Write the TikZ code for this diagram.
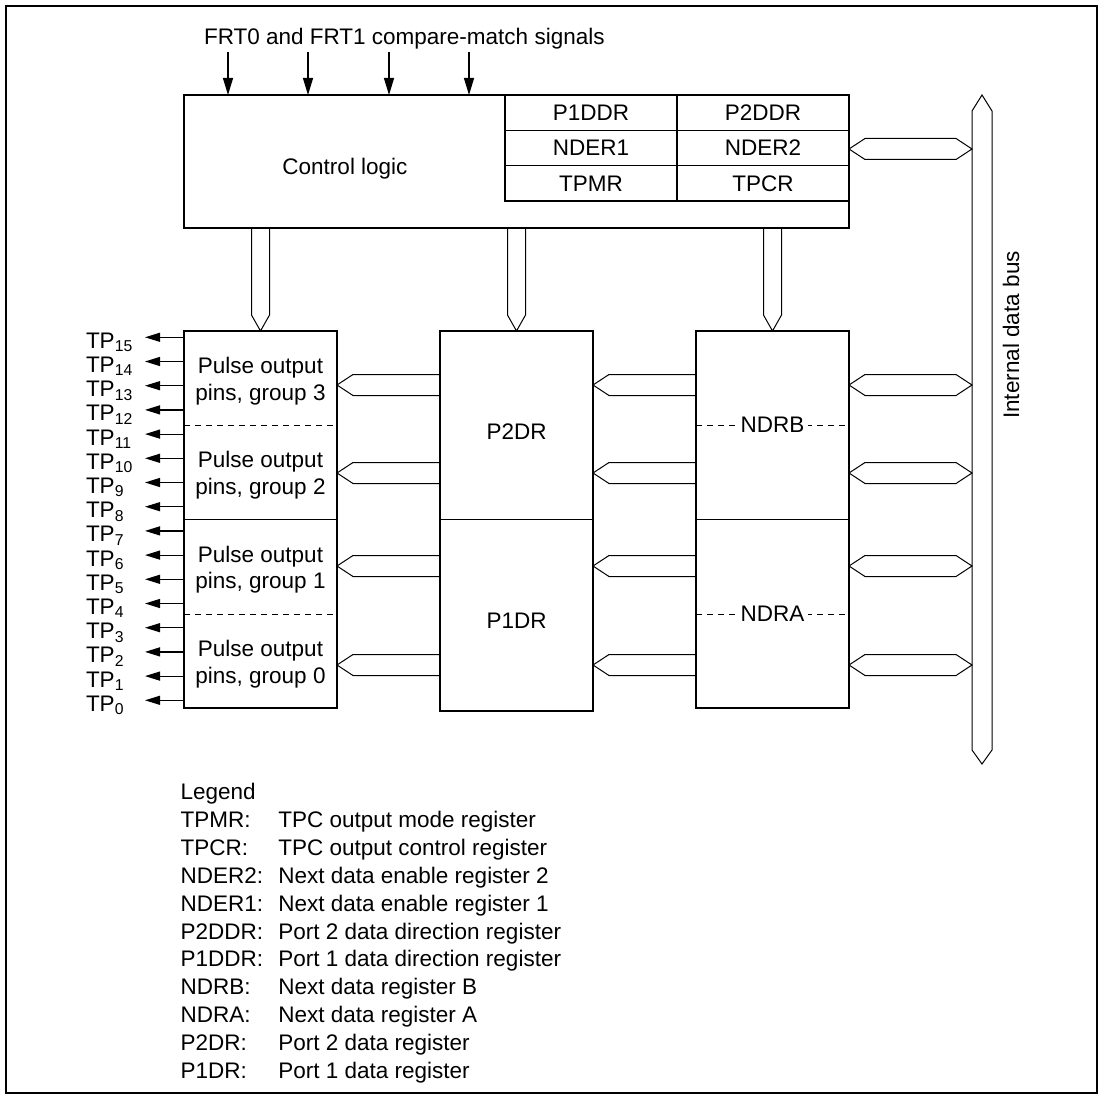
\documentclass[tikz,border=0pt]{standalone}
\usepackage{fontspec}
\setmainfont{Liberation Sans}
\usetikzlibrary{positioning,calc,arrows.meta}

\begin{document}
\begin{tikzpicture}[x=1pt, y=-1pt, line width=0.6pt,
    every node/.style={inner sep=0pt, outer sep=0pt, font=\fontsize{11.25}{13.2}\selectfont},
    blk/.style={draw, anchor=north west},
    cell/.style={draw, anchor=north west, minimum width=86pt, minimum height=17.67pt},
    sig/.style={-{Triangle[length=8.5pt,width=5pt]}},
    pin/.style={-{Triangle[length=7.5pt,width=4.5pt]}},
    dashline/.style={line width=0.5pt, dash pattern=on 3pt off 2.5pt},
    fatL/.style={line width=0.5pt, to path={let \p1=(\tikztostart), \p2=(\tikztotarget) in
        (\x1,\y1+5.25pt) -- (\x2+8pt,\y1+5.25pt) -- (\x2,\y1) -- (\x2+8pt,\y1-5.25pt) -- (\x1,\y1-5.25pt)}},
    fatD/.style={line width=0.5pt, to path={let \p1=(\tikztostart), \p2=(\tikztotarget) in
        (\x1-4.5pt,\y1) -- (\x1-4.5pt,\y2+8pt) -- (\x1,\y2) -- (\x1+4.5pt,\y2+8pt) -- (\x1+4.5pt,\y1)}},
    fatLR/.style={line width=0.5pt, to path={let \p1=(\tikztostart), \p2=(\tikztotarget) in
        (\x1,\y1) -- (\x1+8pt,\y1+5.25pt) -- (\x2-8pt,\y1+5.25pt) -- (\x2,\y1) -- (\x2-8pt,\y1-5.25pt) -- (\x1+8pt,\y1-5.25pt) -- cycle}}]
    \useasboundingbox (0,0) rectangle (550.5,548);
    \draw[line width=0.8pt] (3,3) rectangle (548.5,546.5);

    % Control logic and registers
    \node[blk, minimum width=332.5pt, minimum height=66.5pt] (ctrl) at (92,47.5) {};
    \node[anchor=base] (ctrltxt) at (172.5,87.4) {Control logic};
    \foreach \a/\b [count=\r from 0] in {P1DDR/P2DDR, NDER1/NDER2, TPMR/TPCR} {
        \node[cell] (ra\r) at (252.5,47.5+17.67*\r) {\a};
        \node[cell, right=0pt of ra\r] (rb\r) {\b};
    }

    % Compare-match inputs
    \node[anchor=base west] (frt) at (102,22.3) {FRT0 and FRT1 compare-match signals};
    \foreach \x in {114,154,194.5,234.5}
        \draw[sig] (\x,26) -- (\x,26 |- ctrl.north);

    % Pulse output pins, P1DR/P2DR, NDRA/NDRB
    \node[blk, minimum width=76.5pt, minimum height=188.5pt] (pob) at (92,165.5) {};
    \node[blk, minimum width=76.5pt, minimum height=94.2pt,
          label={[yshift=-3pt]center:P2DR}] (p2dr) at (220,165.5) {};
    \node[blk, minimum width=76.5pt, minimum height=95.8pt, below=0pt of p2dr,
          label={[yshift=-3pt]center:P1DR}] (p1dr) {};
    \node[blk, minimum width=76.5pt, minimum height=188.5pt] (ndr) at (348,165.5) {};
    \draw (pob.west) -- (pob.east);
    \draw (ndr.west) -- (ndr.east);
    \coordinate (qb) at (0,212.5);
    \coordinate (qa) at (0,307);
    \draw[dashline] (pob.west |- qb) -- (pob.east |- qb);
    \draw[dashline] (pob.west |- qa) -- (pob.east |- qa);
    \draw[dashline] (ndr.west |- qb) -- (ndr.east |- qb);
    \draw[dashline] (ndr.west |- qa) -- (ndr.east |- qa);
    \node[fill=white, inner sep=2pt] (ndrb) at (386.25,212.5) {NDRB};
    \node[fill=white, inner sep=2pt] (ndra) at (386.25,307) {NDRA};
    \foreach \g/\y in {3/190.5, 2/237.6, 1/284.9, 0/332}
        \node[align=center] (grp\g) at (130.25,\y) {Pulse output\\pins, group \g};

    % TP pins
    \foreach \i in {0,...,15} {
        \pgfmathsetmacro\y{168.65+12.1*(15-\i)}
        \draw[pin] (pob.west |- 0,\y) -- (72.5,\y);
        \node[anchor=base west] (tp\i) at (43,\y+5.5) {TP\textsubscript{\i}};
    }

    % Internal data bus
    \coordinate (bus) at (486,0);
    \draw[line width=0.5pt] (486,55.5) -- (491,47.5) -- (496,55.5) -- (496,375) -- (491,382) -- (486,375) -- cycle;
    \node[rotate=90] (busname) at (505.5,167.5) {Internal data bus};
    \draw[fatLR] (ctrl.east |- 0,74.5) to (bus |- 0,74.5);
    \foreach \b in {pob,p2dr,ndr}
        \draw[fatD] (ctrl.south -| \b.north) to (\b.north);
    \foreach \y [count=\k] in {192.5,236.5,283,332.5} {
        \coordinate (row\k) at (0,\y);
        \draw[fatL] (p2dr.west |- row\k) to (pob.east |- row\k);
        \draw[fatL] (ndr.west |- row\k) to (p2dr.east |- row\k);
        \draw[fatLR] (ndr.east |- row\k) to (bus |- row\k);
    }

    % Legend
    \node[anchor=base west] (legend) at (90.3,399.7) {Legend};
    \foreach \ab/\txt [count=\k from 0] in {TPMR/TPC output mode register,
        TPCR/TPC output control register, NDER2/Next data enable register 2,
        NDER1/Next data enable register 1, P2DDR/Port 2 data direction register,
        P1DDR/Port 1 data direction register, NDRB/Next data register B,
        NDRA/Next data register A, P2DR/Port 2 data register, P1DR/Port 1 data register} {
        \node[anchor=base west] (ab\k) at (90.3,413.7+13.95*\k) {\ab:};
        \node[anchor=base west] (txt\k) at (139.2,413.7+13.95*\k) {\txt};
    }
\end{tikzpicture}
\end{document}
